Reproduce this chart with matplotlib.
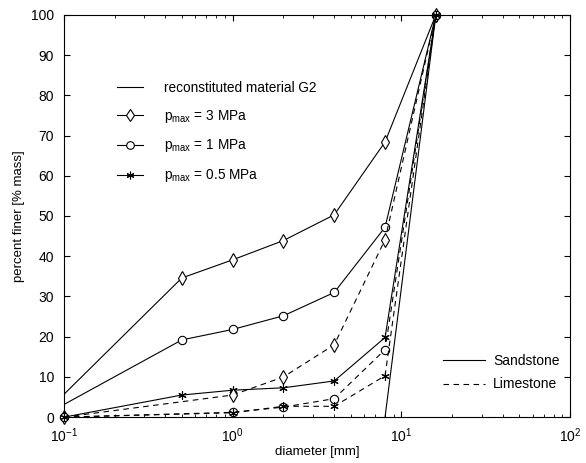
import matplotlib
matplotlib.use("Agg")
import matplotlib.pyplot as plt
from matplotlib.lines import Line2D

plt.rcParams["font.family"] = ["Liberation Sans", "DejaVu Sans"]
plt.rcParams["mathtext.fontset"] = "custom"
plt.rcParams["mathtext.rm"] = "Liberation Sans"

# sieve sizes [mm]
d_sand = [0.073, 0.5, 1, 2, 4, 8, 16]
d_sand_low = [0.1, 0.5, 1, 2, 4, 8, 16]
d_lime = [0.1, 1, 2, 4, 8, 16]
d_g2 = [8, 16]

# percent finer, sandstone
sand_3 = [0, 34.6, 39.1, 43.9, 50.3, 68.4, 100]
sand_1 = [0, 19.2, 21.8, 25.2, 31.0, 47.2, 100]
sand_05 = [0, 5.5, 6.7, 7.3, 9.0, 19.8, 100]

# percent finer, limestone
lime_3 = [0, 5.5, 10.0, 18.0, 44.1, 100]
lime_1 = [0, 1.2, 2.5, 4.6, 16.8, 100]
lime_05 = [0, 1.1, 2.7, 2.7, 10.3, 100]

g2 = [0, 100]

fig = plt.figure(figsize=(5.86, 4.63), dpi=100)
ax = fig.add_axes([0.109, 0.099, 0.864, 0.869])

lw = 0.8
dash = (0, (5, 4))
mk = dict(color="black", lw=lw, markerfacecolor="white", markeredgecolor="black",
          markeredgewidth=0.8, clip_on=False)
star = (6, 2, 0)

ax.plot(d_g2, g2, color="black", lw=lw)
ax.plot(d_sand, sand_3, marker="d", ms=7, **{**mk, "clip_on": True})
ax.plot(d_sand, sand_1, marker="o", ms=6, **{**mk, "clip_on": True})
ax.plot(d_sand_low, sand_05, marker=star, ms=6, **mk)
ax.plot(d_lime, lime_3, marker="d", ms=7, ls=dash, **mk)
ax.plot(d_lime, lime_1, marker="o", ms=6, ls=dash, **mk)
ax.plot(d_lime, lime_05, marker=star, ms=6, ls=dash, **mk)

ax.set_xscale("log")
ax.set_xlim(0.1, 100)
ax.set_ylim(0, 100)
ax.set_yticks(range(0, 101, 10))
ax.tick_params(which="both", direction="in", top=True, right=True, labelsize=10)
ax.tick_params(which="major", length=4)
ax.tick_params(which="minor", length=2.5)
ax.tick_params(axis="y", pad=7)
ax.tick_params(axis="x", pad=6.5)
ax.set_xlabel("diameter [mm]", fontsize=9.5, labelpad=1)
ax.set_ylabel("percent finer [% mass]", fontsize=9.5, labelpad=4)

handles1 = [
    Line2D([], [], color="black", lw=lw),
    Line2D([], [], marker="d", ms=6.5, **mk),
    Line2D([], [], marker="o", ms=5.5, **mk),
    Line2D([], [], marker=star, ms=5.5, **mk),
]
labels1 = [
    "reconstituted material G2",
    r"p$_{\mathregular{max}}$ = 3 MPa",
    r"p$_{\mathregular{max}}$ = 1 MPa",
    r"p$_{\mathregular{max}}$ = 0.5 MPa",
]
leg1 = ax.legend(handles1, labels1, loc="upper left", bbox_to_anchor=(0.095, 0.85),
                 frameon=False, fontsize=9.8, handlelength=1.9, labelspacing=0.95,
                 handletextpad=1.5, borderaxespad=0)
ax.add_artist(leg1)

handles2 = [
    Line2D([], [], color="black", lw=lw),
    Line2D([], [], color="black", lw=lw, ls=dash),
]
ax.legend(handles2, ["Sandstone", "Limestone"], loc="lower right",
          bbox_to_anchor=(0.99, 0.05), frameon=False, fontsize=10,
          handlelength=3.0, labelspacing=0.7, handletextpad=0.6, borderaxespad=0)

fig.savefig("out.png", dpi=100)
